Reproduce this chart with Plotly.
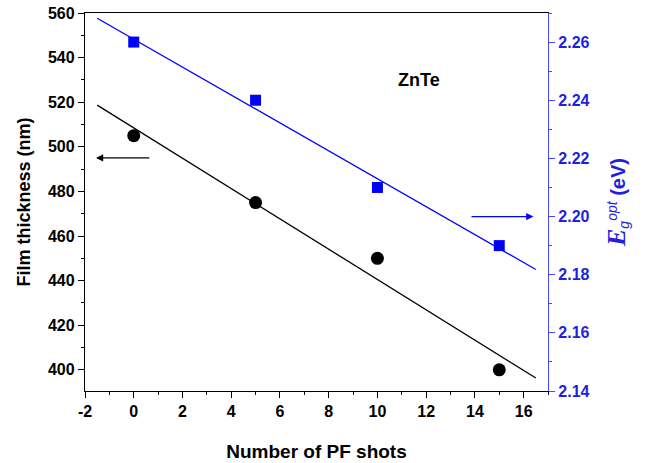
import numpy as np
import plotly.graph_objects as go

shots = [0, 5, 10, 15]
thickness = [505, 475, 450, 400]
eg_opt = [2.26, 2.24, 2.21, 2.19]
fit_x = [-1.5, 16.5]

x_tickvals = [-2, 0, 2, 4, 6, 8, 10, 12, 14, 16]
x_ticktext = ["-2", "0", "2", "4", "6", "8", "10", "12", "14", "16"]

k1 = np.polyfit(shots, thickness, 1)
k2 = np.polyfit(shots, eg_opt, 1)
fit_t = list(np.polyval(k1, fit_x))
fit_e = list(np.polyval(k2, fit_x))

BLUE_AX = "#4646ff"
BLUE_TXT = "#1f1fe0"
FONT = "Liberation Sans"
TICK = 16

fig = go.Figure()
fig.add_trace(go.Scatter(x=fit_x, y=fit_t, mode="lines", line=dict(color="black", width=1.3),
                         showlegend=False, hoverinfo="skip"))
fig.add_trace(go.Scatter(x=shots, y=thickness, mode="markers",
                         marker=dict(color="black", size=13, symbol="circle"), showlegend=False))
fig.add_trace(go.Scatter(x=fit_x, y=fit_e, mode="lines", line=dict(color="blue", width=1.3),
                         yaxis="y2", showlegend=False, hoverinfo="skip"))
fig.add_trace(go.Scatter(x=shots, y=eg_opt, mode="markers",
                         marker=dict(color="blue", size=11, symbol="square"), yaxis="y2", showlegend=False))

# arrows
fig.add_annotation(x=-1.55, y=495, ax=0.7, ay=495, xref="x", yref="y", axref="x", ayref="y",
                   showarrow=True, arrowhead=2, arrowsize=1.2, arrowwidth=1.2, arrowcolor="black", text="")
fig.add_annotation(x=16.4, y=2.20, ax=13.8, ay=2.20, xref="x", yref="y2", axref="x", ayref="y2",
                   showarrow=True, arrowhead=2, arrowsize=1.2, arrowwidth=1.2, arrowcolor="blue", text="")
fig.add_annotation(x=11.7, y=530, xref="x", yref="y", text="<b>ZnTe</b>", showarrow=False,
                   font=dict(family=FONT, size=18, color="black"))

fig.update_layout(
    width=647, height=463,
    margin=dict(l=85, r=99, t=13, b=72),
    plot_bgcolor="white", paper_bgcolor="white",
    font=dict(family=FONT, size=TICK, color="black"),
    xaxis=dict(range=[-2, 17], tickmode="array", tickvals=x_tickvals, ticktext=x_ticktext,
               showgrid=False, zeroline=False, automargin=False,
               showline=True, linecolor="black", linewidth=1.3, mirror=True,
               ticks="outside", ticklen=6, tickwidth=1.2, tickcolor="black",
               minor=dict(dtick=1, ticks="outside", ticklen=3, tickcolor="black"),
               tickfont=dict(family=FONT, size=TICK, color="black", weight="bold"),
               title=dict(text="<b>Number of PF shots</b>", font=dict(family=FONT, size=19), standoff=25)),
    yaxis=dict(range=[390.5, 560], dtick=20, showgrid=False, zeroline=False, automargin=False,
               showline=True, linecolor="black", linewidth=1.3,
               ticks="outside", ticklen=6, tickwidth=1.2, tickcolor="black",
               minor=dict(dtick=10, ticks="outside", ticklen=3, tickcolor="black"),
               tickfont=dict(family=FONT, size=TICK, color="black", weight="bold"),
               title=dict(text="<b>Film thickness (nm)</b>", font=dict(family=FONT, size=18), standoff=12)),
    yaxis2=dict(range=[2.14, 2.27], dtick=0.02, tick0=2.14, overlaying="y", side="right",
                showgrid=False, zeroline=False, showline=True, linecolor=BLUE_AX, linewidth=1.3,
                automargin=False,
                ticks="outside", ticklen=6, tickwidth=1.2, tickcolor=BLUE_AX,
                minor=dict(dtick=0.01, ticks="outside", ticklen=3, tickcolor=BLUE_AX),
                tickformat=".2f", tickfont=dict(family=FONT, size=TICK, color=BLUE_TXT, weight="bold"),
                title=dict(text="<span style=\"font-family:'Liberation Serif';font-size:26px\"><i><b>E</b></i></span>"
                                "<sub><i>g</i></sub><sup><i>opt</i></sup><b> (eV)</b>",
                           font=dict(family=FONT, size=20, color=BLUE_TXT), standoff=22)),
)

fig.write_html("out.html")
